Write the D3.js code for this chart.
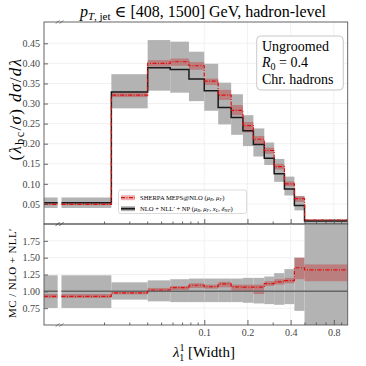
<!DOCTYPE html>
<html>
<head>
<meta charset="utf-8">
<script src="https://cdn.jsdelivr.net/npm/d3@7"></script>
<style>
body { margin: 0; background: #fff; }
text { font-family: "Liberation Serif", "DejaVu Serif", serif; }
</style>
</head>
<body>
<svg width="366" height="366"></svg>
<script>
// lambda bin edges (first bin starts at the left edge of the broken axis)
var binEdges = [0.00763, 0.0225, 0.0403, 0.0579, 0.0782, 0.1, 0.125, 0.154, 0.186, 0.220, 0.262, 0.307, 0.362, 0.425, 0.5, 1.0];
var axisBreak = [0.0095, 0.0101];

// NLO + NLL' + NP, central value and band
var nllVal = [0.053, 0.329, 0.389, 0.385, 0.361, 0.332, 0.290, 0.265, 0.232, 0.198, 0.164, 0.125, 0.087, 0.046, 0.0075];
var nllLo  = [0.040, 0.288, 0.332, 0.327, 0.306, 0.282, 0.248, 0.222, 0.194, 0.168, 0.147, 0.105, 0.071, 0.034, -0.02];
var nllHi  = [0.066, 0.373, 0.458, 0.454, 0.429, 0.399, 0.352, 0.323, 0.271, 0.238, 0.203, 0.162, 0.118, 0.070, 0.012];

// SHERPA MEPS@NLO, central value and band
var mcVal = [0.049, 0.321, 0.400, 0.404, 0.394, 0.356, 0.321, 0.283, 0.245, 0.211, 0.183, 0.143, 0.100, 0.063, 0.010];
var mcLo  = [0.047, 0.316, 0.392, 0.394, 0.384, 0.346, 0.309, 0.271, 0.228, 0.199, 0.175, 0.136, 0.094, 0.055, 0.009];
var mcHi  = [0.052, 0.326, 0.408, 0.412, 0.403, 0.362, 0.334, 0.296, 0.254, 0.219, 0.190, 0.150, 0.106, 0.069, 0.011];

// ratio panel: MC / (NLO + NLL')
var ratioNll   = [1, 1, 1, 1, 1, 1, 1, 1, 1, 1, 1, 1, 1, 1, 1];
var ratioNllLo = [0.753, 0.877, 0.851, 0.840, 0.840, 0.840, 0.840, 0.840, 0.830, 0.820, 0.810, 0.800, 0.810, 0.710, 0.0];
var ratioNllHi = [1.238, 1.134, 1.163, 1.180, 1.190, 1.190, 1.190, 1.190, 1.200, 1.200, 1.220, 1.270, 1.330, 1.500, 3.0];
var ratioMc   = [0.926, 0.976, 1.020, 1.055, 1.090, 1.068, 1.110, 1.065, 1.062, 1.062, 1.115, 1.140, 1.160, 1.350, 1.320];
var ratioMcLo = [0.900, 0.955, 0.990, 1.020, 1.050, 1.040, 1.060, 1.000, 1.000, 0.960, 1.080, 1.100, 1.120, 1.180, 1.150];
var ratioMcHi = [0.960, 1.000, 1.050, 1.080, 1.120, 1.100, 1.140, 1.100, 1.100, 1.100, 1.150, 1.180, 1.200, 1.500, 1.400];

// ticks
var yTicksTop = [0.05, 0.10, 0.15, 0.20, 0.25, 0.30, 0.35, 0.40, 0.45];
var yTicksRatio = [0.75, 1.00, 1.25, 1.50, 1.75];
var xTicksMajor = [0.1, 0.2, 0.4, 0.8];
var xTicksMinor = [0.02, 0.03, 0.04, 0.05, 0.06, 0.07, 0.08, 0.09, 0.3, 0.5, 0.6, 0.7, 0.9];

var grayBand = '#b3b3b3';
var redBand = 'rgba(200,30,30,0.35)';
var redLine = '#e01010';
var frameColor = '#555';

var svg = d3.select('svg');
var pad = {l: 44, r: 347.7, t: 22, mid: 224, b: 325};

var x = d3.scaleLog().base(2)
    .domain([binEdges[0], binEdges[binEdges.length - 1]])
    .range([pad.l, pad.r]);
var yTop = d3.scaleLinear().domain([0, 0.503]).range([pad.mid, pad.t]);
var yRatio = d3.scaleLinear().domain([0.5, 2.0]).range([pad.b, pad.mid]);

//the first bin is split by the axis break
function binPieces(i) {
    if (i === 0) return [[binEdges[0], axisBreak[0]], [axisBreak[1], binEdges[1]]];
    return [[binEdges[i], binEdges[i + 1]]];
}

function bandRects(lo, hi) {
    var out = [];
    lo.forEach(function(l, i) {
        binPieces(i).forEach(function(p) {
            out.push({x0: p[0], x1: p[1], lo: l, hi: hi[i]});
        });
    });
    return out;
}

function stepSections(vals) {
    var a = [[binEdges[0], vals[0]], [axisBreak[0], vals[0]]];
    var b = [[axisBreak[1], vals[0]]];
    for (var i = 1; i < vals.length; i++) b.push([binEdges[i], vals[i]]);
    b.push([binEdges[binEdges.length - 1], vals[vals.length - 1]]);
    return [a, b];
}

var defs = svg.append('defs');
defs.append('clipPath').attr('id', 'clipTop').append('rect')
    .attr('x', pad.l).attr('y', pad.t).attr('width', pad.r - pad.l).attr('height', pad.mid - pad.t);
defs.append('clipPath').attr('id', 'clipRatio').append('rect')
    .attr('x', pad.l).attr('y', pad.mid).attr('width', pad.r - pad.l).attr('height', pad.b - pad.mid);

function drawPanel(y, clipId, yTicks, bands, lines, yFormat) {
    var g = svg.append('g');
    var inner = g.append('g').attr('clip-path', 'url(#' + clipId + ')');
    var y0 = y.range()[0], y1 = y.range()[1];

    //grid
    inner.selectAll('.hgrid').data(yTicks).enter().append('line')
        .attr('x1', pad.l).attr('x2', pad.r)
        .attr('y1', function(d) { return y(d); }).attr('y2', function(d) { return y(d); })
        .style('stroke', '#ebebeb').style('stroke-width', 0.7);
    inner.selectAll('.vgrid').data(xTicksMajor).enter().append('line')
        .attr('x1', function(d) { return x(d); }).attr('x2', function(d) { return x(d); })
        .attr('y1', y0).attr('y2', y1)
        .style('stroke', '#ebebeb').style('stroke-width', 0.7);

    //bands
    bands.forEach(function(b) {
        inner.selectAll(null).data(bandRects(b.lo, b.hi)).enter().append('rect')
            .attr('x', function(d) { return x(d.x0); })
            .attr('width', function(d) { return x(d.x1) - x(d.x0); })
            .attr('y', function(d) { return y(d.hi); })
            .attr('height', function(d) { return y(d.lo) - y(d.hi); })
            .style('fill', b.color);
    });

    //step lines
    var line = d3.line()
        .x(function(d) { return x(d[0]); })
        .y(function(d) { return y(d[1]); })
        .curve(d3.curveStepAfter);
    lines.forEach(function(l) {
        inner.selectAll(null).data(stepSections(l.vals)).enter().append('path')
            .attr('d', line)
            .style('fill', 'none')
            .style('stroke', l.color)
            .style('stroke-width', l.width)
            .style('stroke-dasharray', l.dash || null);
    });

    //frame
    g.append('rect')
        .attr('x', pad.l).attr('y', y1)
        .attr('width', pad.r - pad.l).attr('height', y0 - y1)
        .style('fill', 'none').style('stroke', frameColor).style('stroke-width', 0.9);

    //y axis, ticks pointing inwards
    var yAxis = g.append('g')
        .attr('transform', 'translate(' + pad.l + ',0)')
        .call(d3.axisLeft(y).tickValues(yTicks).tickSize(-4).tickPadding(4).tickFormat(d3.format(yFormat)));
    yAxis.select('.domain').remove();

    //x axis at the bottom of the panel
    var xMinor = g.append('g')
        .attr('transform', 'translate(0,' + y0 + ')')
        .call(d3.axisBottom(x).tickValues(xTicksMinor).tickSize(-2.5).tickFormat(''));
    xMinor.select('.domain').remove();
    var xMajor = g.append('g')
        .attr('transform', 'translate(0,' + y0 + ')')
        .call(d3.axisBottom(x).tickValues(xTicksMajor).tickSize(-5).tickPadding(4).tickFormat(d3.format('.1f')));
    xMajor.select('.domain').remove();

    g.selectAll('.tick line').style('stroke', frameColor).style('stroke-width', 0.9);
    g.selectAll('.tick text')
        .style('font-family', '"Liberation Serif", serif')
        .style('font-size', '10px')
        .style('fill', '#444');

    //axis break marks
    [y0, y1].forEach(function(yy) {
        axisBreak.forEach(function(bv) {
            g.append('line')
                .attr('x1', x(bv) - 2).attr('x2', x(bv) + 2)
                .attr('y1', yy + 1.5).attr('y2', yy - 1.5)
                .style('stroke', frameColor).style('stroke-width', 0.7);
        });
    });
    return {g: g, xMajor: xMajor};
}

var topPanel = drawPanel(yTop, 'clipTop', yTicksTop,
    [{lo: nllLo, hi: nllHi, color: grayBand}, {lo: mcLo, hi: mcHi, color: redBand}],
    [{vals: nllVal, color: '#1a1a1a', width: 1.5}, {vals: mcVal, color: redLine, width: 1.2, dash: '4,1.5,1,1.5'}],
    '.2f');
topPanel.xMajor.selectAll('.tick text').remove();

var ratioPanel = drawPanel(yRatio, 'clipRatio', yTicksRatio,
    [{lo: ratioNllLo, hi: ratioNllHi, color: grayBand}, {lo: ratioMcLo, hi: ratioMcHi, color: redBand}],
    [{vals: ratioNll, color: '#666', width: 1.5}, {vals: ratioMc, color: redLine, width: 1.2, dash: '4,1.5,1,1.5'}],
    '.2f');

//title
var title = svg.append('text')
    .attr('x', 203).attr('y', 17)
    .attr('text-anchor', 'middle')
    .style('font-size', '16px');
title.append('tspan').style('font-style', 'italic').text('p');
title.append('tspan').attr('dy', 3).style('font-size', '11px').style('font-style', 'italic').text('T');
title.append('tspan').style('font-size', '11px').text(', jet');
title.append('tspan').attr('dy', -3).text(' \u2208 [408, 1500] GeV, hadron-level');

//y label top
var yl = svg.append('text')
    .attr('transform', 'translate(21,109) rotate(-90)')
    .attr('text-anchor', 'middle')
    .style('font-size', '17px')
    .style('letter-spacing', '1.4px');
yl.append('tspan').text('(');
yl.append('tspan').style('font-style', 'italic').text('\u03bb');
yl.append('tspan').attr('dy', 3).style('font-size', '12px').text('bc');
yl.append('tspan').attr('dy', -3).text('/');
yl.append('tspan').style('font-style', 'italic').text('\u03c3');
yl.append('tspan').text(') ');
yl.append('tspan').style('font-style', 'italic').text('d\u03c3');
yl.append('tspan').text('/');
yl.append('tspan').style('font-style', 'italic').text('d\u03bb');

//y label ratio
svg.append('text')
    .attr('transform', 'translate(16,273) rotate(-90)')
    .attr('text-anchor', 'middle')
    .style('font-size', '11px')
    .style('letter-spacing', '0.4px')
    .text('MC / NLO + NLL\u2032');

//x label
var xl = svg.append('text')
    .attr('x', 204).attr('y', 357)
    .attr('text-anchor', 'middle')
    .style('font-size', '15px');
xl.append('tspan').style('font-style', 'italic').text('\u03bb');
xl.append('tspan').attr('dy', -6).style('font-size', '10px').text('1');
xl.append('tspan').attr('dx', -5).attr('dy', 10).style('font-size', '10px').text('1');
xl.append('tspan').attr('dy', -4).text(' [Width]');

//info box
svg.append('rect')
    .attr('x', 256.7).attr('y', 36).attr('width', 86.6).attr('height', 54)
    .attr('rx', 4)
    .style('fill', '#fff').style('stroke', '#bbb').style('stroke-width', 0.8);
var info = svg.append('text').attr('x', 262).style('font-size', '14px');
info.append('tspan').attr('x', 262).attr('y', 51).text('Ungroomed');
info.append('tspan').attr('x', 262).attr('y', 67).style('font-style', 'italic').text('R');
info.append('tspan').attr('dy', 3).style('font-size', '10px').text('0');
info.append('tspan').attr('dy', -3).text(' = 0.4');
info.append('tspan').attr('x', 262).attr('y', 84).text('Chr. hadrons');

//legend
var lg = svg.append('g');
lg.append('rect')
    .attr('x', 118.5).attr('y', 190).attr('width', 128).attr('height', 23.5)
    .attr('rx', 2)
    .style('fill', 'rgba(255,255,255,0.85)').style('stroke', '#ccc').style('stroke-width', 0.7);
var legendItems = [
    {y: 197.7, band: redBand, color: redLine, width: 1.2, dash: '4,1.5,1,1.5',
        parts: [['SHERPA MEPS@NLO (', ''], ['\u03bc', 'i'], ['R', 's'], [', ', ''], ['\u03bc', 'i'], ['F', 's'], [')', '']]},
    {y: 208.7, band: grayBand, color: '#1a1a1a', width: 1.8, dash: null,
        parts: [['NLO + NLL\u2032 + NP (', ''], ['\u03bc', 'i'], ['R', 's'], [', ', ''], ['\u03bc', 'i'], ['F', 's'], [', ', ''],
            ['x', 'i'], ['L', 's'], [', ', ''], ['\u03b4', 'i'], ['NP', 's'], [')', '']]}
];
legendItems.forEach(function(it) {
    lg.append('rect').attr('x', 121).attr('y', it.y - 2.5).attr('width', 14).attr('height', 5)
        .style('fill', it.band);
    lg.append('line').attr('x1', 121).attr('x2', 135).attr('y1', it.y).attr('y2', it.y)
        .style('stroke', it.color).style('stroke-width', it.width).style('stroke-dasharray', it.dash);
    var t = lg.append('text').attr('x', 140).attr('y', it.y + 2.2).style('font-size', '6.6px');
    var shifted = false;
    it.parts.forEach(function(p) {
        var ts = t.append('tspan').text(p[0]);
        if (p[1] === 'i') ts.style('font-style', 'italic');
        if (p[1] === 's') { ts.attr('dy', 1.3).style('font-size', '4.6px').style('font-style', 'italic'); shifted = true; }
        else if (shifted) { ts.attr('dy', -1.3); shifted = false; }
    });
});
</script>
</body>
</html>
